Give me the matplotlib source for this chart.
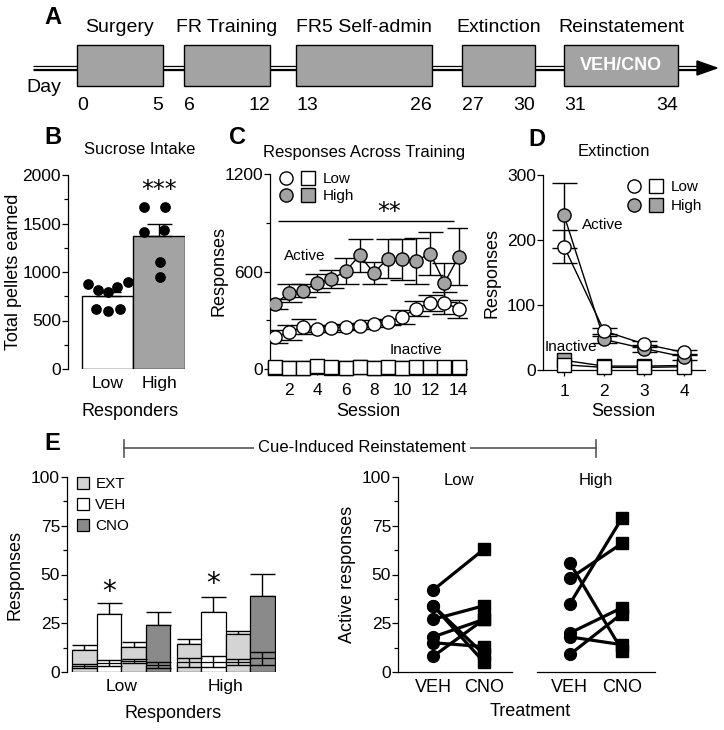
import numpy as np
import matplotlib
matplotlib.use('Agg')
import matplotlib.pyplot as plt
from matplotlib.patches import Rectangle, Polygon, Patch
from matplotlib.lines import Line2D
from matplotlib.legend_handler import HandlerTuple
from matplotlib.ticker import MultipleLocator

plt.rcParams['font.family'] = ['Liberation Sans', 'DejaVu Sans']
plt.rcParams['axes.linewidth'] = 0.9

# ---- A: timeline ----
phases = ['Surgery', 'FR Training', 'FR5 Self-admin', 'Extinction', 'Reinstatement']
phase_start = [0, 6, 13, 27, 31]
phase_end = [5, 12, 26, 30, 34]
# schematic box edges (pixels, not to scale)
box_left = [77, 184, 296, 462, 564]
box_right = [163, 270, 432, 535, 678]

# ---- B: sucrose intake ----
b_groups = ['Low', 'High']
b_mean = [750, 1372]
b_sem = [40, 120]
b_low_pts = [875, 813, 793, 841, 895, 621, 600, 621]
b_high_pts = [1667, 1667, 1417, 1434, 1108, 947]
b_low_jit = [-0.39, -0.19, 0.0, 0.19, 0.39, -0.22, 0.0, 0.23]
b_high_jit = [-0.30, 0.11, -0.30, 0.09, 0.01, 0.01]

# ---- C: responses across training ----
c_sessions = np.arange(1, 15)
c_high_act = [402, 467, 483, 528, 554, 601, 700, 591, 680, 676, 666, 710, 530, 690]
c_high_err = [30, 55, 40, 55, 56, 80, 100, 65, 122, 127, 140, 134, 120, 175]
c_low_act = [199, 225, 260, 246, 250, 260, 264, 280, 290, 321, 371, 408, 406, 371]
c_low_err = [40, 46, 45, 20, 20, 20, 20, 20, 20, 45, 45, 50, 70, 55]
c_high_inact = [8, 8, 8, 15, 8, 8, 10, 8, 8, 8, 8, 8, 8, 8]
c_low_inact = [10, 8, 8, 20, 10, 8, 12, 8, 10, 8, 10, 10, 10, 10]

# ---- D: extinction ----
d_sessions = [1, 2, 3, 4]
d_low_act = [190, 60, 40, 27]
d_low_err = [25, 5, 5, 4]
d_high_act = [238, 47, 33, 20]
d_high_err = [50, 6, 5, 4]
d_low_inact = [8, 4, 4, 5]
d_high_inact = [15, 6, 6, 7]

# ---- E left: reinstatement bars ----
e_groups = ['Low', 'High']
e_conds = ['EXT', 'VEH', 'EXT', 'CNO']
e_low_act = [11.5, 29.5, 13.0, 24.0]
e_low_act_err = [2.5, 6.0, 2.5, 7.0]
e_low_inact = [3.0, 4.5, 5.5, 3.5]
e_low_inact_err = [1.0, 1.5, 1.0, 1.5]
e_high_act = [14.5, 31.0, 19.5, 39.0]
e_high_act_err = [2.5, 7.5, 1.5, 11.3]
e_high_inact = [5.0, 5.3, 5.2, 7.0]
e_high_inact_err = [2.2, 2.7, 1.5, 3.5]

# ---- E right: individual active responses ----
low_veh = [42, 34, 34, 27, 18, 15, 8]
low_cno = [63, 9, 5, 34, 27, 13, 27]
high_veh = [56, 48, 35, 20, 18, 9]
high_cno = [11, 66, 79, 33, 14, 30]

W, H = 724, 730
fig = plt.figure(figsize=(W / 100, H / 100), dpi=100)


def add_px_axes(x0, y0, x1, y1):
    return fig.add_axes([x0 / W, 1 - y1 / H, (x1 - x0) / W, (y1 - y0) / H])


def ftext(x, y, s, **kw):
    kw.setdefault('ha', 'center')
    kw.setdefault('va', 'center')
    return fig.text(x / W, 1 - y / H, s, **kw)


def style(ax):
    ax.spines['top'].set_visible(False)
    ax.spines['right'].set_visible(False)
    ax.tick_params(direction='out', length=4, width=0.9, labelsize=12.5, pad=1)
    ax.tick_params(which='minor', direction='out', length=3, width=0.9)


GRAY = '#a3a3a3'

# ================= A =================
ax_a = add_px_axes(0, 0, W, 118)
ax_a.set_xlim(0, W)
ax_a.set_ylim(118, 0)
ax_a.axis('off')
ax_a.plot([33, 700], [68, 68], color='black', lw=3.8, solid_capstyle='butt', zorder=1)
ax_a.plot([33, 700], [68, 68], color='white', lw=1.3, solid_capstyle='butt', zorder=2)
ax_a.add_patch(Polygon([[697, 61], [697, 75], [717, 68]], closed=True, color='black', zorder=2))
for name, s, e, l, r in zip(phases, phase_start, phase_end, box_left, box_right):
    ax_a.add_patch(Rectangle((l, 45), r - l, 41, fc=GRAY, ec='black', lw=1, zorder=3))
    ax_a.text((l + r) / 2, 28, name, ha='center', va='center', fontsize=14)
    ax_a.text(l, 105, str(s), ha='left', va='center', fontsize=14)
    ax_a.text(r, 105, str(e), ha='right', va='center', fontsize=14)
ax_a.text((box_left[-1] + box_right[-1]) / 2, 66, 'VEH/CNO', ha='center', va='center',
          color='white', fontsize=13, fontweight='bold', zorder=4)
ax_a.text(26, 87, 'Day', ha='left', va='center', fontsize=14)
ftext(53, 18, 'A', fontsize=17, fontweight='bold')

# ================= B =================
ax_b = add_px_axes(68, 175, 185, 369)
style(ax_b)
xb = np.arange(len(b_groups))
ax_b.bar(xb, b_mean, width=1.0, color=['white', GRAY], edgecolor='black', lw=1, zorder=2)
ax_b.errorbar(xb, b_mean, yerr=[[0, 0], b_sem], fmt='none', ecolor='black',
              elinewidth=1, capsize=9, capthick=1, zorder=3)
ax_b.scatter(xb[0] + np.array(b_low_jit), b_low_pts, s=45, color='black', zorder=4)
ax_b.scatter(xb[1] + np.array(b_high_jit), b_high_pts, s=45, color='black', zorder=4)
ax_b.set_xlim(-0.77, 1.5)
ax_b.set_ylim(0, 2000)
ax_b.yaxis.set_major_locator(MultipleLocator(500))
ax_b.yaxis.set_minor_locator(MultipleLocator(250))
ax_b.spines['bottom'].set_visible(False)
ax_b.set_xticks(xb)
ax_b.set_xticklabels(b_groups)
ax_b.tick_params(axis='x', length=0, pad=5)
ax_b.text(1, 1850, '***', ha='center', va='center', fontsize=17, family='DejaVu Sans')
ax_b.set_ylabel('Total pellets earned', fontsize=13)
ax_b.yaxis.set_label_coords(-0.39, 0.5)
ftext(130, 412, 'Responders', fontsize=13)
ftext(140, 149, 'Sucrose Intake', fontsize=12)
ftext(53, 138, 'B', fontsize=17, fontweight='bold')

# ================= C =================
ax_c = add_px_axes(270, 174, 467, 369)
style(ax_c)
ax_c.plot(c_sessions, c_high_inact, 's-', color='black', mfc=GRAY, mec='black', ms=10, lw=1,
          zorder=3, clip_on=False)
ax_c.plot(c_sessions, c_low_inact, 's-', color='black', mfc='white', mec='black', ms=10, lw=1,
          zorder=4, clip_on=False)
ax_c.errorbar(c_sessions, c_high_act, yerr=c_high_err, fmt='none', ecolor='black',
              elinewidth=1, capsize=9, capthick=1, zorder=2)
ax_c.errorbar(c_sessions, c_low_act, yerr=c_low_err, fmt='none', ecolor='black',
              elinewidth=1, capsize=9, capthick=1, zorder=2)
ax_c.plot(c_sessions, c_high_act, 'o-', color='black', mfc=GRAY, mec='black', ms=9.5, lw=1, zorder=3)
ax_c.plot(c_sessions, c_low_act, 'o-', color='black', mfc='white', mec='black', ms=9.5, lw=1, zorder=3)
ax_c.set_xlim(0.65, 14.6)
ax_c.set_ylim(0, 1200)
ax_c.set_yticks([0, 600, 1200])
ax_c.yaxis.set_minor_locator(MultipleLocator(300))
ax_c.set_xticks(np.arange(2, 15, 2))
ax_c.tick_params(axis='x', pad=6)
ax_c.hlines(913, 1.25, 13.65, color='black', lw=1)
ax_c.text(9.1, 965, '**', ha='center', va='center', fontsize=17, family='DejaVu Sans')
ax_c.text(3.1, 696, 'Active', ha='center', va='center', fontsize=11)
ax_c.text(11, 118, 'Inactive', ha='center', va='center', fontsize=11)
ax_c.set_ylabel('Responses', fontsize=13)
ax_c.yaxis.set_label_coords(-0.218, 0.5)
ftext(368, 411, 'Session', fontsize=13)
ftext(364, 152, 'Responses Across Training', fontsize=12)
ftext(238, 138, 'C', fontsize=17, fontweight='bold')

lc = Line2D([], [], marker='o', ls='none', mfc='white', mec='black', ms=9.5)
ls_ = Line2D([], [], marker='s', ls='none', mfc='white', mec='black', ms=9.5)
hc = Line2D([], [], marker='o', ls='none', mfc=GRAY, mec='black', ms=9.5)
hs = Line2D([], [], marker='s', ls='none', mfc=GRAY, mec='black', ms=9.5)
leg_kw = dict(handler_map={tuple: HandlerTuple(ndivide=None, pad=0.26)}, frameon=False,
              loc='upper left', fontsize=11, handlelength=2.6, handletextpad=0.4,
              labelspacing=0.2, borderpad=0, borderaxespad=0)
ax_c.legend([(lc, ls_), (hc, hs)], ['Low', 'High'], bbox_to_anchor=(0.036, 1.01), **leg_kw)

# ================= D =================
ax_d = add_px_axes(543, 175, 705, 370)
style(ax_d)
ax_d.plot(d_sessions, d_high_inact, 's-', color='black', mfc=GRAY, mec='black', ms=10, lw=1,
          zorder=3, clip_on=False)
ax_d.plot(d_sessions, d_low_inact, 's-', color='black', mfc='white', mec='black', ms=10, lw=1,
          zorder=4, clip_on=False)
ax_d.errorbar(d_sessions, d_high_act, yerr=d_high_err, fmt='none', ecolor='black',
              elinewidth=1, capsize=9, capthick=1, zorder=2)
ax_d.errorbar(d_sessions, d_low_act, yerr=d_low_err, fmt='none', ecolor='black',
              elinewidth=1, capsize=9, capthick=1, zorder=2)
ax_d.plot(d_sessions, d_high_act, 'o-', color='black', mfc=GRAY, mec='black', ms=9.5, lw=1, zorder=5)
ax_d.plot(d_sessions, d_low_act, 'o-', color='black', mfc='white', mec='black', ms=9.5, lw=1, zorder=6)
ax_d.set_xlim(0.475, 4.52)
ax_d.set_ylim(0, 300)
ax_d.set_xticks(d_sessions)
ax_d.tick_params(axis='x', pad=6)
ax_d.yaxis.set_major_locator(MultipleLocator(100))
ax_d.text(1.96, 223, 'Active', ha='center', va='center', fontsize=11)
ax_d.text(1.17, 35, 'Inactive', ha='center', va='center', fontsize=11, zorder=7)
ax_d.set_ylabel('Responses', fontsize=13)
ax_d.yaxis.set_label_coords(-0.26, 0.5)
ftext(623, 411, 'Session', fontsize=13)
ftext(614, 152, 'Extinction', fontsize=12)
ftext(537, 140, 'D', fontsize=17, fontweight='bold')
ax_d.legend([(lc, ls_), (hc, hs)], ['Low', 'High'], bbox_to_anchor=(0.506, 0.974),
            **dict(leg_kw, labelspacing=0.35))

# ================= E header =================
line_y = 448
fig.add_artist(Line2D([124 / W, 596 / W], [1 - line_y / H] * 2, color='#555555', lw=1.2))
fig.add_artist(Line2D([124 / W] * 2, [1 - 440 / H, 1 - 457 / H], color='#555555', lw=1.2))
fig.add_artist(Line2D([596 / W] * 2, [1 - 440 / H, 1 - 457 / H], color='#555555', lw=1.2))
ftext(362, line_y, 'Cue-Induced Reinstatement', fontsize=12,
      bbox=dict(fc='white', ec='none', pad=3))
ftext(52, 443, 'E', fontsize=17, fontweight='bold')

# ================= E left =================
ax_el = add_px_axes(67, 477, 276, 672)
style(ax_el)
cond_colors = {'EXT': '#d4d4d4', 'VEH': 'white', 'CNO': '#8a8a8a'}
group_offsets = [0.0, 4.25]
group_data = [(e_low_act, e_low_act_err, e_low_inact, e_low_inact_err),
              (e_high_act, e_high_act_err, e_high_inact, e_high_inact_err)]
for off, (act, act_err, ina, ina_err) in zip(group_offsets, group_data):
    xs = off + np.arange(len(e_conds))
    cols = [cond_colors[c] for c in e_conds]
    ax_el.errorbar(xs, act, yerr=[np.zeros(len(act)), act_err], fmt='none', ecolor='black',
                   elinewidth=1, capsize=9, capthick=1, zorder=1)
    ax_el.bar(xs, act, width=1.0, color=cols, edgecolor='black', lw=0.9, zorder=2)
    ax_el.bar(xs, ina, width=1.0, color=cols, edgecolor='black', lw=0.9, zorder=3)
    ax_el.errorbar(xs, ina, yerr=ina_err, fmt='none', ecolor='black',
                   elinewidth=1, capsize=9, capthick=1, zorder=4)
ax_el.text(1, 41, '*', ha='center', va='center', fontsize=20, family='DejaVu Sans')
ax_el.text(4.25 + 1, 45, '*', ha='center', va='center', fontsize=20, family='DejaVu Sans')
ax_el.set_xlim(-0.71, 7.8)
ax_el.set_ylim(0, 100)
ax_el.yaxis.set_major_locator(MultipleLocator(25))
ax_el.yaxis.set_minor_locator(MultipleLocator(12.5))
ax_el.spines['bottom'].set_visible(False)
ax_el.set_xticks([g + 1.5 for g in group_offsets])
ax_el.set_xticklabels(e_groups)
ax_el.tick_params(axis='x', length=0, pad=5)
ax_el.set_ylabel('Responses', fontsize=13)
ax_el.yaxis.set_label_coords(-0.206, 0.5)
ftext(173, 713, 'Responders', fontsize=13)
leg_handles = [Patch(fc=cond_colors[c], ec='black', lw=0.9) for c in ['EXT', 'VEH', 'CNO']]
ax_el.legend(leg_handles, ['EXT', 'VEH', 'CNO'], loc='upper left', bbox_to_anchor=(0.048, 1.0),
             frameon=False, fontsize=11, handlelength=0.8, handleheight=0.8,
             handletextpad=0.4, labelspacing=0.45, borderpad=0, borderaxespad=0)

# ================= E right =================
ax_r1 = add_px_axes(398, 477, 512, 672)
ax_r2 = add_px_axes(537, 477, 655, 672)
for ax, veh, cno, name, xl in [(ax_r1, low_veh, low_cno, 'Low', (-0.69, 1.55)),
                               (ax_r2, high_veh, high_cno, 'High', (-0.63, 1.63))]:
    style(ax)
    n = len(veh)
    xs = np.vstack([np.zeros(n), np.ones(n)])
    ax.plot(xs, np.vstack([veh, cno]), color='black', lw=2.3, zorder=2)
    ax.plot(np.zeros(n), veh, 'o', color='black', ms=8.5, zorder=3)
    ax.plot(np.ones(n), cno, 's', color='black', ms=8.5, zorder=3)
    ax.set_xlim(*xl)
    ax.set_ylim(0, 100)
    ax.set_xticks([0, 1])
    ax.set_xticklabels(['VEH', 'CNO'], fontsize=13)
    ax.tick_params(axis='x', length=0, pad=5)
    ax.yaxis.set_major_locator(MultipleLocator(25))
    ax.yaxis.set_minor_locator(MultipleLocator(12.5))
    ax.text(0.5, 98, name, ha='center', va='center', fontsize=12)
    for sp in ['top', 'right']:
        ax.spines[sp].set_visible(False)
ax_r2.spines['left'].set_visible(False)
ax_r2.tick_params(axis='y', which='both', left=False, labelleft=False)
ax_r1.set_ylabel('Active responses', fontsize=13)
ax_r1.yaxis.set_label_coords(-0.368, 0.5)
ftext(530, 712, 'Treatment', fontsize=13)

fig.savefig('out.png', dpi=100)
